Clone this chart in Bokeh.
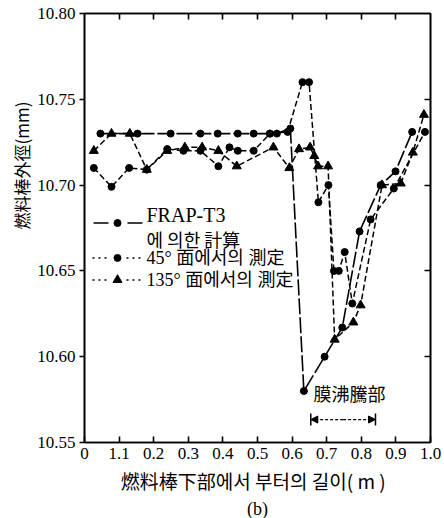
import math
from bokeh.plotting import figure
from bokeh.models import Range1d, FixedTicker, LinearAxis, Label, Arrow, NormalHead, Title
from bokeh.embed import file_html
from bokeh.resources import INLINE

# ---- data -------------------------------------------------------------
x_ticks = [0.0, 0.1, 0.2, 0.3, 0.4, 0.5, 0.6, 0.7, 0.8, 0.9, 1.0]
x_tick_labels = ["0", "1.1", "0.2", "0.3", "0.4", "0.5", "0.6", "0.7", "0.8", "0.9", "1.0"]
y_ticks = [10.55, 10.60, 10.65, 10.70, 10.75, 10.80]
y_tick_labels = ["10.55", "10.60", "10.65", "10.70", "10.75", "10.80"]

# FRAP-T3 calculation
calc_x = [0.046, 0.153, 0.249, 0.335, 0.385, 0.443, 0.489, 0.536, 0.556, 0.595,
          0.634, 0.694, 0.745, 0.795, 0.856, 0.899, 0.947]
calc_y = [10.730, 10.730, 10.730, 10.730, 10.730, 10.730, 10.730, 10.730, 10.730, 10.733,
          10.580, 10.600, 10.617, 10.673, 10.700, 10.708, 10.731]

# measurement at 45 deg
m45_x = [0.027, 0.078, 0.129, 0.180, 0.239, 0.286, 0.335, 0.387, 0.419, 0.443, 0.489,
         0.536, 0.587, 0.630, 0.649, 0.676, 0.705, 0.721, 0.735, 0.752, 0.774, 0.827,
         0.894, 0.984]
m45_y = [10.710, 10.699, 10.710, 10.709, 10.721, 10.720, 10.720, 10.711, 10.722, 10.720, 10.720,
         10.730, 10.731, 10.760, 10.760, 10.690, 10.700, 10.650, 10.650, 10.661, 10.631, 10.680,
         10.698, 10.731]

# measurement at 135 deg
m135_x = [0.027, 0.078, 0.131, 0.180, 0.239, 0.290, 0.340, 0.387, 0.440, 0.546, 0.592,
          0.620, 0.652, 0.664, 0.675, 0.704, 0.723, 0.777, 0.798, 0.860, 0.914, 0.949, 0.981]
m135_y = [10.720, 10.730, 10.730, 10.709, 10.720, 10.722, 10.722, 10.720, 10.711, 10.722, 10.710,
          10.721, 10.722, 10.717, 10.711, 10.711, 10.610, 10.620, 10.630, 10.700, 10.701, 10.719, 10.741]

film_boiling_start = 0.654
film_boiling_end = 0.841

# ---- figure -----------------------------------------------------------
W, H = 444, 518
FL, FR, FT, FB = 84, 430, 13, 443
X0, X1, Y0, Y1 = 0.0, 1.0, 10.55, 10.80


def dx(px):
    return X0 + (px - FL) * (X1 - X0) / (FR - FL)


def dy(py):
    return Y1 - (py - FT) * (Y1 - Y0) / (FB - FT)


SERIF = "'Liberation Serif', 'Noto Sans CJK KR'"
CJK = "'Noto Sans CJK KR'"

p = figure(width=W, height=H, x_range=Range1d(X0, X1), y_range=Range1d(Y0, Y1),
           output_backend="svg", toolbar_location=None,
           min_border_left=FL, min_border_right=W - FR,
           min_border_top=FT, min_border_bottom=H - FB)
p.grid.visible = False
p.outline_line_color = "black"
p.outline_line_width = 1.6
p.background_fill_color = "white"
p.border_fill_color = "white"

xa = p.xaxis[0]
xa.ticker = FixedTicker(ticks=x_ticks)
xa.major_label_overrides = {t: l for t, l in zip(x_ticks, x_tick_labels)}
xa.major_tick_in = 6
xa.major_tick_out = 0
xa.minor_tick_line_color = None
xa.axis_line_width = 1.6
xa.major_tick_line_width = 1.6
xa.major_label_text_font = SERIF
xa.major_label_text_font_size = "17px"
xa.major_label_text_color = "black"
xa.major_label_standoff = 5
xa.axis_label = "燃料棒下部에서  부터의  길이( m )"
xa.axis_label_text_font = CJK
xa.axis_label_text_font_style = "normal"
xa.axis_label_text_font_size = "19px"
xa.axis_label_text_color = "black"
xa.axis_label_standoff = 5

ya = p.yaxis[0]
ya.ticker = FixedTicker(ticks=y_ticks)
ya.major_label_overrides = {t: l for t, l in zip(y_ticks, y_tick_labels)}
ya.major_tick_in = 0
ya.major_tick_out = 5
ya.minor_tick_line_color = None
ya.axis_line_width = 1.6
ya.major_tick_line_width = 1.4
ya.major_label_text_font = SERIF
ya.major_label_text_font_size = "17px"
ya.major_label_text_color = "black"
ya.major_label_standoff = 4

top = LinearAxis(ticker=FixedTicker(ticks=x_ticks[1:-1]),
                 major_label_overrides={t: "" for t in x_ticks},
                 major_tick_in=6, major_tick_out=0, minor_tick_line_color=None,
                 axis_line_width=1.6, major_tick_line_width=1.6,
                 major_label_standoff=0, major_label_text_font_size="1px")
p.add_layout(top, "above")
right = LinearAxis(ticker=FixedTicker(ticks=y_ticks[1:-1]),
                   major_label_overrides={t: "" for t in y_ticks},
                   major_tick_in=6, major_tick_out=0, minor_tick_line_color=None,
                   axis_line_width=1.6, major_tick_line_width=1.4,
                   major_label_standoff=0, major_label_text_font_size="1px")
p.add_layout(right, "right")

# y-axis title and panel caption
p.add_layout(Title(text="燃料棒外徑(mm)", align="right", offset=88, text_font=CJK,
                   text_font_size="17px", text_font_style="normal", text_color="black",
                   standoff=2), "left")
p.add_layout(Title(text="(b)", align="center", text_font=SERIF, text_font_size="18px",
                   text_font_style="normal", text_color="black", standoff=0), "below")

# ---- series -----------------------------------------------------------
p.line(calc_x, calc_y, line_color="black", line_width=1.6, line_dash="16 3")
p.scatter(calc_x, calc_y, marker="circle", size=7, color="black")

p.line(m45_x, m45_y, line_color="black", line_width=1.5, line_dash="6 3")
p.scatter(m45_x, m45_y, marker="circle", size=7, color="black")

p.line(m135_x, m135_y, line_color="black", line_width=1.5, line_dash="6 3")
p.scatter(m135_x, m135_y, marker="triangle", size=9, color="black")

# ---- legend (drawn by hand, no box) -------------------------------------
p.line([dx(93), dx(142)], [dy(223), dy(223)], line_color="black", line_width=1.6, line_dash="15 19")
p.scatter([dx(117)], [dy(223)], marker="circle", size=7, color="black")
p.multi_line([[dx(92), dx(108)], [dx(126), dx(142)]], [[dy(258), dy(258)], [dy(258), dy(258)]],
             line_color="black", line_width=1.5, line_dash="2 4")
p.scatter([dx(117)], [dy(258)], marker="circle", size=7, color="black")
p.multi_line([[dx(92), dx(108)], [dx(126), dx(142)]], [[dy(280), dy(280)], [dy(280), dy(280)]],
             line_color="black", line_width=1.5, line_dash="2 4")
p.scatter([dx(117)], [dy(280)], marker="triangle", size=9, color="black")

legend_texts = [
    ("FRAP-T3", 215, SERIF, "20px"),
    ("에  의한  計算", 239, CJK, "18px"),
    ("45° 面에서의 測定", 258, SERIF, "18px"),
    ("135° 面에서의 測定", 280, SERIF, "18px"),
]
for txt, py, font, size in legend_texts:
    p.add_layout(Label(x=dx(146), y=dy(py), text=txt, text_font=font, text_font_size=size,
                       text_align="left", text_baseline="middle", text_color="black"))

# ---- film boiling annotation -------------------------------------------
p.add_layout(Label(x=dx(313), y=dy(393), text="膜沸騰部", text_font=CJK, text_font_size="18px",
                   text_align="left", text_baseline="middle", text_color="black"))
ya_arrow = dy(420)
p.add_layout(Arrow(x_start=(film_boiling_start + film_boiling_end) / 2, y_start=ya_arrow,
                   x_end=film_boiling_start, y_end=ya_arrow, line_color="black", line_width=1.3,
                   line_dash="3 2", end=NormalHead(size=7, fill_color="black", line_color="black")))
p.add_layout(Arrow(x_start=(film_boiling_start + film_boiling_end) / 2, y_start=ya_arrow,
                   x_end=film_boiling_end, y_end=ya_arrow, line_color="black", line_width=1.3,
                   line_dash="3 2", end=NormalHead(size=7, fill_color="black", line_color="black")))
p.segment(x0=[film_boiling_start, film_boiling_end], y0=[dy(414), dy(414)],
          x1=[film_boiling_start, film_boiling_end], y1=[dy(426), dy(426)],
          line_color="black", line_width=1.5)

open("out.html", "w").write(file_html(p, INLINE))
